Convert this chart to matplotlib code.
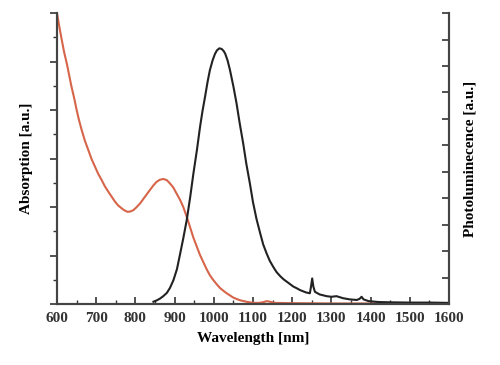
import matplotlib.pyplot as plt
from matplotlib.ticker import MultipleLocator, NullFormatter

# absorption (left axis)
abs_wl = [600, 606, 612, 618, 625, 631, 637, 644, 650, 656, 663, 671, 680, 688, 697, 705,
          714, 722, 731, 740, 748, 756, 765, 772, 780, 787, 795, 803, 812, 825, 837, 846,
          854, 862, 871, 880, 888, 897, 905, 914, 922, 931, 940, 948, 957, 965, 974, 982,
          990, 999, 1008, 1016, 1025, 1033, 1042, 1050, 1059, 1067, 1083, 1100, 1115,
          1125, 1135, 1143, 1155, 1200, 1300, 1400, 1500, 1600]
abs_val = [1.0, 0.953, 0.909, 0.867, 0.827, 0.787, 0.747, 0.707, 0.668, 0.633, 0.598,
           0.562, 0.529, 0.499, 0.472, 0.448, 0.426, 0.405, 0.386, 0.368, 0.352, 0.339,
           0.329, 0.322, 0.317, 0.318, 0.323, 0.333, 0.346, 0.37, 0.392, 0.408, 0.42,
           0.427, 0.43, 0.426, 0.415, 0.4, 0.38, 0.358, 0.334, 0.30, 0.262, 0.228, 0.196,
           0.168, 0.142, 0.119, 0.099, 0.082, 0.067, 0.055, 0.045, 0.037, 0.029, 0.022,
           0.017, 0.013, 0.008, 0.004, 0.004, 0.006, 0.01, 0.008, 0.004, 0.003, 0.002,
           0.002, 0.002, 0.002]

# photoluminescence (right axis)
pl_wl = [846, 855, 863, 871, 880, 888, 897, 906, 914, 922, 931, 940, 948, 957, 965, 971,
         978, 984, 990, 997, 1003, 1008, 1014, 1020, 1025, 1029, 1035, 1041, 1050, 1058,
         1066, 1075, 1083, 1092, 1100, 1109, 1118, 1126, 1135, 1143, 1152, 1160, 1170,
         1178, 1186, 1195, 1203, 1212, 1220, 1235, 1245, 1248, 1251, 1254, 1258, 1270,
         1288, 1300, 1313, 1330, 1347, 1365, 1372, 1377, 1382, 1395, 1420, 1450, 1500,
         1550, 1600]
pl_val = [0.008, 0.013, 0.019, 0.027, 0.038, 0.055, 0.082, 0.12, 0.172, 0.225, 0.289,
          0.37, 0.449, 0.53, 0.61, 0.662, 0.715, 0.763, 0.804, 0.838, 0.86, 0.872,
          0.879, 0.877, 0.87, 0.861, 0.838, 0.806, 0.748, 0.69, 0.622, 0.552, 0.482,
          0.415, 0.35, 0.292, 0.245, 0.205, 0.173, 0.148, 0.127, 0.11, 0.095, 0.085,
          0.077, 0.068, 0.06, 0.054, 0.048, 0.04, 0.037, 0.06, 0.088, 0.06, 0.042, 0.033,
          0.027, 0.025, 0.027, 0.02, 0.016, 0.014, 0.018, 0.025, 0.016, 0.01, 0.007,
          0.006, 0.005, 0.005, 0.004]

plt.rcParams['font.family'] = 'Liberation Serif'
plt.rcParams['font.weight'] = 'bold'

fig = plt.figure(figsize=(5, 3.65), dpi=100)
ax = fig.add_axes([0.114, 0.167, 0.784, 0.797])
ax2 = ax.twinx()

ax.plot(abs_wl, abs_val, color='#d6654a', lw=1.5)
ax2.plot(pl_wl, pl_val, color='#222222', lw=1.5)

ax.set_xlim(600, 1600)
ax.set_ylim(0, 1.0)
ax2.set_ylim(0, 1.0)

ax.xaxis.set_major_locator(MultipleLocator(100))
ax.xaxis.set_minor_locator(MultipleLocator(50))
ax.yaxis.set_major_locator(MultipleLocator(1 / 6))
ax.yaxis.set_minor_locator(MultipleLocator(1 / 12))
ax.yaxis.set_major_formatter(NullFormatter())
ax2.yaxis.set_major_locator(MultipleLocator(1 / 11))
ax2.yaxis.set_major_formatter(NullFormatter())

ax.tick_params(axis='x', which='major', direction='in', length=5, width=1.2,
               labelsize=11, pad=6, colors='#333333')
ax.tick_params(axis='x', which='minor', direction='in', length=3, width=1.0, colors='#333333')
ax.tick_params(axis='y', which='major', direction='out', length=5, width=1.2, colors='#333333')
ax.tick_params(axis='y', which='minor', direction='out', length=3, width=1.0, colors='#333333')
ax2.tick_params(axis='y', which='major', direction='in', length=5, width=1.2, colors='#333333')

for a in (ax, ax2):
    a.spines['top'].set_visible(False)
    for s in ('left', 'right', 'bottom'):
        a.spines[s].set_linewidth(1.5)
        a.spines[s].set_color('#444444')

ax.set_xlabel('Wavelength [nm]', fontsize=11, fontweight='bold', labelpad=5)
ax.set_ylabel('Absorption [a.u.]', fontsize=11, fontweight='bold', labelpad=9)
ax2.set_ylabel('Photoluminecence [a.u.]', fontsize=11, fontweight='bold', labelpad=7)

fig.savefig('out.png', dpi=100)
